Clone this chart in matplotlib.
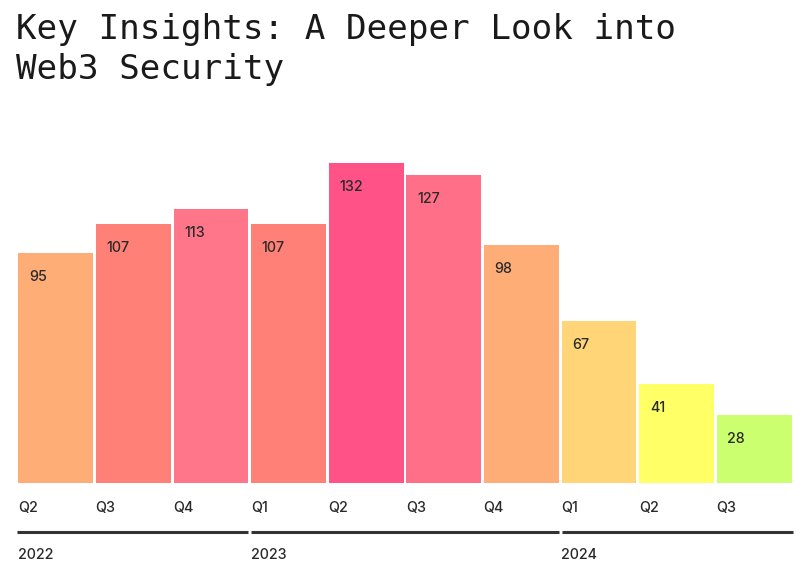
import matplotlib
matplotlib.use("Agg")
import matplotlib.pyplot as plt

quarters = ["Q2", "Q3", "Q4", "Q1", "Q2", "Q3", "Q4", "Q1", "Q2", "Q3"]
years = ["2022", "2023", "2024"]
year_spans = [(0, 3), (3, 7), (7, 10)]  # index ranges of quarters per year
values = [95, 107, 113, 107, 132, 127, 98, 67, 41, 28]
colors = ["#FFAD77", "#FF8077", "#FF7589", "#FF8077", "#FF5286",
          "#FF7088", "#FFAD77", "#FFD577", "#FFFF66", "#CCFF70"]

W, H = 804, 580
fig = plt.figure(figsize=(W / 100, H / 100), dpi=100)
fig.patch.set_facecolor("white")

left, right, base, top = 17, 793, 483, 163
ax = fig.add_axes([left / W, (H - base) / H, (right - left) / W, (base - top) / H])
n = len(values)
ax.set_xlim(-0.5, n - 0.5)
ax.set_ylim(0, max(values))
ax.axis("off")

xs = list(range(n))
ax.bar(xs, values, width=0.965, color=colors, align="center",
       edgecolor="none", clip_on=False)

trans = ax.get_xaxis_transform()
ph = base - top
slot_px = (right - left) / n
fs = 10.3

for x, v in zip(xs, values):
    ax.annotate(str(v), xy=(x - 0.5, v), xytext=(12, -24), textcoords="offset pixels",
                ha="left", va="center", fontsize=fs, color="#2a2a2a",
                family="Inter", fontweight="medium")

for x, q in zip(xs, quarters):
    ax.text(x - 0.5 + 1 / slot_px, -(508 - base) / ph, q, transform=trans,
            ha="left", va="center", fontsize=fs, color="#2a2a2a",
            family="Inter", fontweight="medium", clip_on=False)

for (a, b), yr in zip(year_spans, years):
    x0 = a - 0.5 + (1.5 / slot_px if a > 0 else 0)
    x1 = b - 0.5 - (1.5 / slot_px if b < n else 0)
    ax.plot([x0, x1], [-(532 - base) / ph] * 2, transform=trans, color="#333333",
            lw=2.2, solid_capstyle="butt", clip_on=False)
    ax.text(a - 0.5 + 1 / slot_px, -(555 - base) / ph, yr, transform=trans,
            ha="left", va="center", fontsize=fs, color="#2a2a2a",
            family="Inter", fontweight="medium", clip_on=False)

for i, line in enumerate(["Key Insights: A Deeper Look into", "Web3 Security"]):
    fig.text(16 / W, 1 - (30 + 40 * i) / H, line,
             ha="left", va="center", fontsize=24.7, color="#1a1a1a",
             family="DejaVu Sans Mono", fontweight="normal")

fig.savefig("out.png", dpi=100, facecolor="white")
